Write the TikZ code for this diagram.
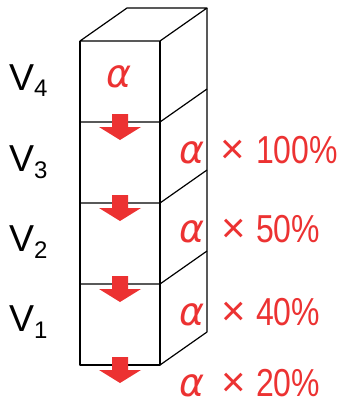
\documentclass[tikz,border=0pt]{standalone}
\usepackage{fontspec}
\setmainfont{Liberation Sans}
\newfontfamily\grkfont{DejaVu Sans}
\usepackage{graphicx}
\usepackage{xcolor}
\usetikzlibrary{calc}
\definecolor{vred}{RGB}{236,50,50}
\newcommand{\ralpha}{\resizebox{25pt}{22pt}{\grkfont\itshape α}}
\newcommand{\vsub}[1]{\raisebox{-6.5pt}{\fontsize{24}{24}\selectfont #1}}
\newcommand{\pct}[1]{\scalebox{0.82}[1]{#1\%}}
\newcommand{\redarrow}[1]{\fill[vred,shift={(#1)}] (-8,-8) -- (8,-8) -- (8,5) -- (21,5) -- (0,18) -- (-21,5) -- (-8,5) -- cycle;}

\begin{document}
\begin{tikzpicture}[x=1pt,y=-1pt,
  box/.style={line width=1.2pt,line join=round},
  vlab/.style={anchor=base west,inner sep=0pt,font=\fontsize{37.5}{40}\selectfont},
  ralab/.style={anchor=base west,inner sep=0pt,text=vred},
  tlab/.style={inner sep=0pt,text=vred,font=\fontsize{42}{44}\selectfont},
  plab/.style={anchor=base west,inner sep=0pt,text=vred,font=\fontsize{39}{40}\selectfont}]
\useasboundingbox (0,0) rectangle (339,405);
\def\dx{47}
\def\dy{-33}
\coordinate (A) at (80,41);
\coordinate (B) at (160,41);
\coordinate (C) at (80,365);
\coordinate (D) at (160,365);
\coordinate (A1) at ($(A)!0.25!(C)$);
\coordinate (B1) at ($(B)!0.25!(D)$);
\coordinate (A2) at ($(A)!0.5!(C)$);
\coordinate (B2) at ($(B)!0.5!(D)$);
\coordinate (A3) at ($(A)!0.75!(C)$);
\coordinate (B3) at ($(B)!0.75!(D)$);

% cube stack
\draw[box] (A) -- ($(A)+(\dx,\dy)$) -- ($(B)+(\dx,\dy)$) -- (B) -- cycle;
\draw[box] (A) -- (C) -- (D) -- (B);
\draw[box] ($(B)+(\dx,\dy)$) -- ($(D)+(\dx,\dy)$) -- (D);
\draw[box] (A1) -- (B1) -- ($(B1)+(\dx,\dy)$);
\draw[box] (A2) -- (B2) -- ($(B2)+(\dx,\dy)$);
\draw[box] (A3) -- (B3) -- ($(B3)+(\dx,\dy)$);

% flow arrows
\redarrow{$(A1)!0.5!(B1)$}
\redarrow{$(A2)!0.5!(B2)$}
\redarrow{$(A3)!0.5!(B3)$}
\redarrow{$(C)!0.5!(D)$}

\node[vlab] (v4) at (9,90) {V\vsub{4}};
\node[vlab] (v3) at (9,171.5) {V\vsub{3}};
\node[vlab] (v2) at (9,251.5) {V\vsub{2}};
\node[vlab] (v1) at (9,331.5) {V\vsub{1}};

\node[ralab,anchor=base] (a4) at (119,87) {\ralpha};

\node[ralab] (a3) at (179,163) {\ralpha};\node[tlab] (t3) at (232.5,152) {×};\node[plab] (p3) at (256,163) {\pct{100}};
\node[ralab] (a2) at (179,242) {\ralpha};\node[tlab] (t2) at (233.5,231) {×};\node[plab] (p2) at (256,242) {\pct{50}};
\node[ralab] (a1) at (179,325) {\ralpha};\node[tlab] (t1) at (233.5,314) {×};\node[plab] (p1) at (256,325) {\pct{40}};
\node[ralab] (a0) at (179,396) {\ralpha};\node[tlab] (t0) at (233.5,385) {×};\node[plab] (p0) at (256,396) {\pct{20}};

\end{tikzpicture}
\end{document}
